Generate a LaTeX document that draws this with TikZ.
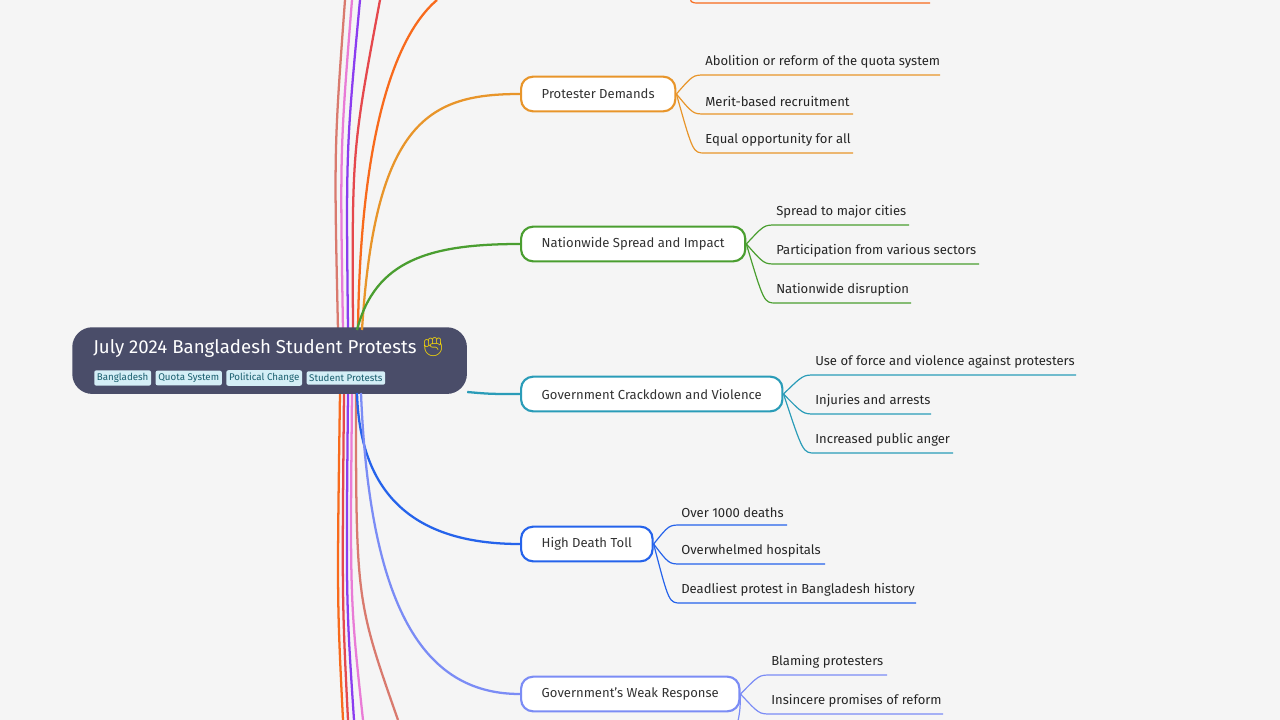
\documentclass[tikz,border=0pt]{standalone}
\usepackage{fontspec}
\setmainfont{Fira Sans}
\newfontfamily\emojifont{Noto Emoji}
\usetikzlibrary{positioning}

\definecolor{bgc}{HTML}{F5F5F5}
\definecolor{rootc}{HTML}{4A4D69}
\definecolor{tagc}{HTML}{D4EEF6}
\definecolor{c1}{HTML}{E8952A}
\definecolor{c2}{HTML}{4A9E30}
\definecolor{c3}{HTML}{2A9CB8}
\definecolor{c4}{HTML}{2563EB}
\definecolor{c5}{HTML}{7B8CF5}
\definecolor{corange}{HTML}{F86A1C}
\definecolor{cred}{HTML}{E5484D}
\definecolor{cpurple}{HTML}{8B3DF0}
\definecolor{cpink}{HTML}{E97BD6}
\definecolor{csalmon}{HTML}{D97A6E}

\tikzset{
  branch/.style={draw=#1, line width=1.6pt, rounded corners=9pt, fill=white,
    minimum height=26pt, inner xsep=15.5pt, anchor=west, font=\fontsize{9.8}{12}\selectfont, text=black!80},
  leaf/.style={anchor=south west, inner xsep=0pt, inner ysep=5pt, font=\fontsize{9.8}{12}\selectfont, text=black!85},
  tag/.style={fill=tagc, rounded corners=1.5pt, inner xsep=2pt, inner ysep=2.2pt, font=\fontsize{7.3}{8}\selectfont, text=c3!60!black},
  link/.style={draw=#1, line width=1.7pt},
  twig/.style={draw=#1, line width=0.9pt}
}

\begin{document}
\begin{tikzpicture}[x=0.75pt, y=-0.75pt]
  \useasboundingbox[fill=bgc] (0,0) rectangle (1280,720);

  % lines running off the top and bottom
  \draw[link=csalmon] (338,330) .. controls (334,150) .. (345,0);
  \draw[link=cpink] (343,330) .. controls (340,150) .. (352,0);
  \draw[link=cpurple] (348,330) .. controls (346,150) .. (360,0);
  \draw[link=cred] (353,330) .. controls (352,150) .. (380,0);
  \draw[link=corange] (358,330) .. controls (360,150) and (390,40) .. (437,0);
  \draw[link=corange] (340,393) .. controls (337,600) .. (343,720);
  \draw[link=cred] (344,393) .. controls (342,600) .. (348,720);
  \draw[link=cpurple] (348,393) .. controls (346,600) .. (354,720);
  \draw[link=cpink] (352,393) .. controls (350,600) .. (363,720);
  \draw[link=csalmon] (356,393) .. controls (356,600) .. (398,720);
  \draw[twig=corange] (690,-8) .. controls (690,3) .. (700,3) -- (930,3);

  % root
  \node[fill=rootc, rounded corners=15pt, minimum width=296pt, minimum height=50pt, anchor=north west] (root) at (72,327) {};
  \node[anchor=west, text=white, font=\fontsize{14}{16}\selectfont, inner sep=0pt] (title) at (93,348)
    {July 2024 Bangladesh Student Protests {\emojifont\textcolor{yellow!80!orange}{✊}}};
  \node[tag, anchor=west] (t1) at (94,378) {Bangladesh};
  \node[tag, right=3pt of t1] (t2) {Quota System};
  \node[tag, right=3pt of t2] (t3) {Political Change};
  \node[tag, right=3pt of t3] (t4) {Student Protests};

  % branches
  \node[branch=c1] (dem) at (520,94) {Protester Demands};
  \node[branch=c2] (spr) at (520,244) {Nationwide Spread and Impact};
  \node[branch=c3] (cra) at (520,394) {Government Crackdown and Violence};
  \node[branch=c4] (tol) at (520,544) {High Death Toll};
  \node[branch=c5] (res) at (520,694) {Government's Weak Response};

  \draw[link=c1] (362,330) .. controls (375,120) and (430,94) .. (dem.west);
  \draw[link=c2] (357,330) .. controls (375,260) and (430,244) .. (spr.west);
  \draw[link=c3] (root.east |- 0,392) .. controls (490,394) .. (cra.west);
  \draw[link=c4] (357,393) .. controls (360,500) and (420,544) .. (tol.west);
  \draw[link=c5] (361,393) .. controls (370,620) and (430,694) .. (res.west);

  % leaves
  \foreach \src/\col/\x/\y/\txt/\len in {
      dem/c1/705/75/Abolition or reform of the quota system/235,
      dem/c1/705/114/Merit-based recruitment/148,
      dem/c1/705/153/Equal opportunity for all/148,
      spr/c2/776/225/Spread to major cities/133,
      spr/c2/776/264/Participation from various sectors/203,
      spr/c2/776/303/Nationwide disruption/135,
      cra/c3/815/375/Use of force and violence against protesters/261,
      cra/c3/815/414/Injuries and arrests/116,
      cra/c3/815/453/Increased public anger/138,
      tol/c4/681/525/Over 1000 deaths/106,
      tol/c4/681/564/Overwhelmed hospitals/144,
      tol/c4/681/603/Deadliest protest in Bangladesh history/235,
      res/c5/771/675/Blaming protesters/116,
      res/c5/771/714/Insincere promises of reform/172}{
    \node[leaf] (lf) at (\x,\y) {\txt};
    \draw[twig=\col] (\src.east) .. controls (\x-12,\y) .. (\x,\y) -- ++(\len,0);
  }
  \draw[twig=c5] (res.east) .. controls (740,712) .. (736,730);
\end{tikzpicture}
\end{document}
